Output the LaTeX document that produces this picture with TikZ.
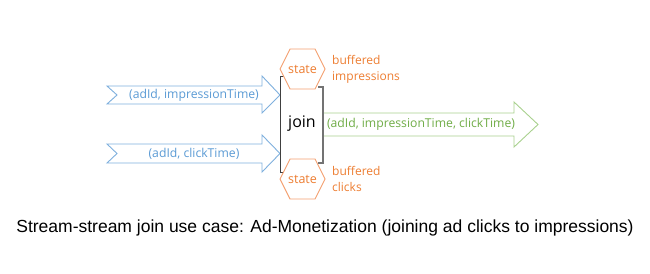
\documentclass[tikz,border=0pt]{standalone}
\usepackage{fontspec}
\setmainfont{Open Sans}
\newfontfamily\capfont{Liberation Sans}
\definecolor{bline}{HTML}{7FB0DE}
\definecolor{btext}{HTML}{5B9BD5}
\definecolor{gline}{HTML}{A9D18E}
\definecolor{gtext}{HTML}{70AD47}
\definecolor{oline}{HTML}{F4A070}
\definecolor{otext}{HTML}{ED7D31}
\tikzset{
  inarrow/.style={draw=bline, line width=0.9pt, fill=white, line join=miter},
  outarrow/.style={draw=gline, line width=0.9pt, fill=white, line join=miter},
  hexa/.style={draw=oline, line width=0.9pt, fill=white},
  lbl/.style={inner sep=0pt, font=\fontsize{12.2}{14}\selectfont},
  ostate/.style={lbl, text=otext, font=\fontsize{12.5}{14}\selectfont},
  note/.style={lbl, text=otext, align=left, anchor=west, font=\fontsize{12}{16}\selectfont},
}
\begin{document}
\begin{tikzpicture}[x=1pt,y=-1pt]
\useasboundingbox (0,0) rectangle (650,273);
% input arrows
\draw[inarrow] (107,86) -- (262,86) -- (262,76) -- (280,95) -- (262,113) -- (262,104) -- (107,104) -- (117,95) -- cycle;
\draw[inarrow] (107,144) -- (262,144) -- (262,135) -- (280,153.5) -- (262,172) -- (262,163) -- (107,163) -- (117,153.5) -- cycle;
\node[lbl, text=btext] (in1) at (194,95) {(adId, impressionTime)};
\node[lbl, text=btext] (in2) at (194,153.5) {(adId, clickTime)};
% output arrow
\draw[outarrow] (323,113) -- (514,113) -- (514,102) -- (538,124.5) -- (514,147) -- (514,136) -- (323,136);
\node[lbl, text=gtext] (out) at (421,124.5) {(adId, impressionTime, clickTime)};
% join brackets
\draw[black!75, line width=1pt] (285,76) -- (280,76) -- (280,172) -- (285,172);
\draw[black!55, line width=1.3pt] (318,87) -- (323,87) -- (323,163) -- (318,163);
\node[inner sep=0pt, font=\fontsize{16}{18}\selectfont] (join) at (302,124) {join};
% hexagons
\draw[hexa] (280,69) -- (290,49) -- (315,49) -- (325,69) -- (315,89) -- (290,89) -- cycle;
\node[ostate] (s1) at (302.5,69) {state};
\draw[hexa] (280,179) -- (290,159) -- (315,159) -- (325,179) -- (315,199) -- (290,199) -- cycle;
\node[ostate] (s2) at (302.5,179) {state};
\node[note] (b1) at (332,69) {buffered\\impressions};
\node[note] (b2) at (332,179) {buffered\\clicks};
% caption
\node[inner sep=0pt, font=\capfont\fontsize{17.5}{20}\selectfont] (cap) at (325,228) {Stream-stream join use case: Ad-Monetization (joining ad clicks to impressions)};
\end{tikzpicture}
\end{document}
